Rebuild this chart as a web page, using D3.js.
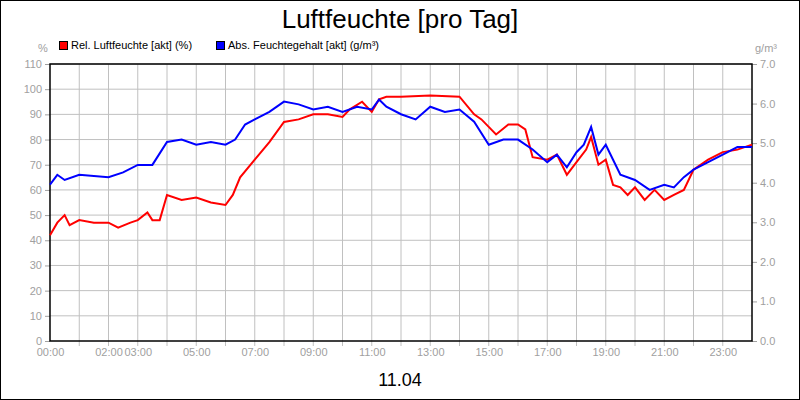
<!DOCTYPE html>
<html><head><meta charset="utf-8">
<script src="https://cdn.jsdelivr.net/npm/d3@7"></script>
<style>body{margin:0;background:#fff}svg{display:block;font-family:"Liberation Sans",Arial,sans-serif}</style>
</head><body><div id="chart"></div>
<script>
// Relative Luftfeuchte (%) – Stunde
const relHours = [0,0.25,0.5,0.67,1,1.5,2,2.33,2.75,3,3.33,3.5,3.75,4,4.5,5,5.5,6,6.25,6.5,7,7.5,8,8.5,9,9.5,10,10.25,10.67,11,11.25,11.5,12,13,14,14.5,14.75,15.25,15.67,16,16.25,16.5,17,17.33,17.67,18,18.33,18.5,18.75,19,19.25,19.5,19.75,20,20.33,20.67,21,21.33,21.67,22,22.5,23,23.5,24];
const relValues = [42,47,50,46,48,47,47,45,47,48,51,48,48,58,56,57,55,54,58,65,72,79,87,88,90,90,89,92,95,91,96,97,97,97.5,97,90,88,82,86,86,84,73,72,74,66,71,76,81,70,72,62,61,58,61,56,60,56,58,60,68,72,75,76,78];
// Absoluter Feuchtegehalt (g/m³)
const absHours = [0,0.25,0.5,1,2,2.5,3,3.5,4,4.5,5,5.5,6,6.33,6.67,7,7.5,8,8.5,9,9.5,10,10.5,11,11.25,11.5,12,12.5,13,13.5,14,14.5,15,15.5,16,16.5,17,17.33,17.67,18,18.25,18.5,18.75,19,19.25,19.5,20,20.5,21,21.33,21.67,22,22.5,23,23.5,24];
const absValues = [3.95,4.2,4.07,4.2,4.14,4.26,4.45,4.45,5.03,5.09,4.96,5.03,4.96,5.09,5.47,5.6,5.79,6.05,5.98,5.85,5.92,5.79,5.92,5.85,6.1,5.92,5.73,5.6,5.92,5.79,5.85,5.54,4.96,5.09,5.09,4.84,4.52,4.71,4.39,4.77,4.96,5.41,4.71,4.96,4.58,4.2,4.07,3.82,3.95,3.88,4.14,4.33,4.52,4.71,4.9,4.9];
const leftTicks = d3.range(0, 111, 10);
const rightTicks = d3.range(0, 8, 1);
const xLabelHours = [0,2,3,5,7,9,11,13,15,17,19,21,23];

const width = 800, height = 400;
const m = {left: 50, right: 48, top: 64, bottom: 59};
const svg = d3.select('#chart').append('svg').attr('width', width).attr('height', height);
svg.append('rect').attr('x', 0.5).attr('y', 0.5).attr('width', width - 1).attr('height', height - 1)
  .attr('fill', '#fff').attr('stroke', '#000');

const x = d3.scaleLinear().domain([0, 24]).range([m.left, width - m.right]);
const yL = d3.scaleLinear().domain([0, 110]).range([height - m.bottom, m.top]);
const yR = d3.scaleLinear().domain([0, 7]).range([height - m.bottom, m.top]);

// Gitter
svg.append('g').selectAll('line').data(d3.range(1, 24)).join('line')
  .attr('x1', d => x(d)).attr('x2', d => x(d)).attr('y1', m.top).attr('y2', height - m.bottom + 5)
  .attr('stroke', '#c0c0c0');
svg.append('g').selectAll('line').data(leftTicks.slice(1)).join('line')
  .attr('x1', m.left).attr('x2', width - m.right).attr('y1', d => yL(d)).attr('y2', d => yL(d))
  .attr('stroke', '#c0c0c0');

const grey = '#a0a0a0';
const axL = svg.append('g').attr('transform', `translate(${m.left},0)`)
  .call(d3.axisLeft(yL).tickValues(leftTicks).tickSize(5).tickPadding(3));
const axR = svg.append('g').attr('transform', `translate(${width - m.right},0)`)
  .call(d3.axisRight(yR).tickValues(rightTicks).tickSize(5).tickPadding(3));
const axB = svg.append('g').attr('transform', `translate(0,${height - m.bottom})`)
  .call(d3.axisBottom(x).tickValues(xLabelHours).tickSize(0).tickPadding(7)
    .tickFormat(d => String(d).padStart(2, '0') + ':00'));
[axL, axR, axB].forEach(a => {
  a.select('.domain').remove();
  a.selectAll('line').attr('stroke', grey);
  a.selectAll('text').attr('fill', grey).attr('font-size', 11).attr('font-family', '"Liberation Sans",Arial,sans-serif');
});

// Rahmen Plotbereich
svg.append('rect').attr('x', m.left).attr('y', m.top)
  .attr('width', width - m.left - m.right).attr('height', height - m.top - m.bottom)
  .attr('fill', 'none').attr('stroke', '#000').attr('stroke-width', 1.5);

svg.append('path').datum(relHours.map((h, i) => [h, relValues[i]]))
  .attr('d', d3.line().x(d => x(d[0])).y(d => yL(d[1])))
  .attr('fill', 'none').attr('stroke', '#ff0000').attr('stroke-width', 2);
svg.append('path').datum(absHours.map((h, i) => [h, absValues[i]]))
  .attr('d', d3.line().x(d => x(d[0])).y(d => yR(d[1])))
  .attr('fill', 'none').attr('stroke', '#0000ff').attr('stroke-width', 2);

// Titel und Beschriftung
svg.append('text').attr('x', 400).attr('y', 28).attr('text-anchor', 'middle')
  .attr('font-size', 26).text('Luftfeuchte [pro Tag]');
svg.append('text').attr('x', 400).attr('y', 386).attr('text-anchor', 'middle')
  .attr('font-size', 18).text('11.04');
svg.append('text').attr('x', 43).attr('y', 52).attr('text-anchor', 'middle')
  .attr('fill', grey).attr('font-size', 11).text('%');
svg.append('text').attr('x', 766).attr('y', 52).attr('text-anchor', 'middle')
  .attr('fill', grey).attr('font-size', 11).text('g/m³');

const legend = [['Rel. Luftfeuchte [akt] (%)', '#ff0000', 59], ['Abs. Feuchtegehalt [akt] (g/m³)', '#0000ff', 216]];
legend.forEach(([t, c, lx]) => {
  svg.append('rect').attr('x', lx + 0.5).attr('y', 41.5).attr('width', 8).attr('height', 8)
    .attr('fill', c).attr('stroke', '#000');
  svg.append('text').attr('x', lx + 12).attr('y', 49).attr('font-size', 11).text(t);
});
</script></body></html>
